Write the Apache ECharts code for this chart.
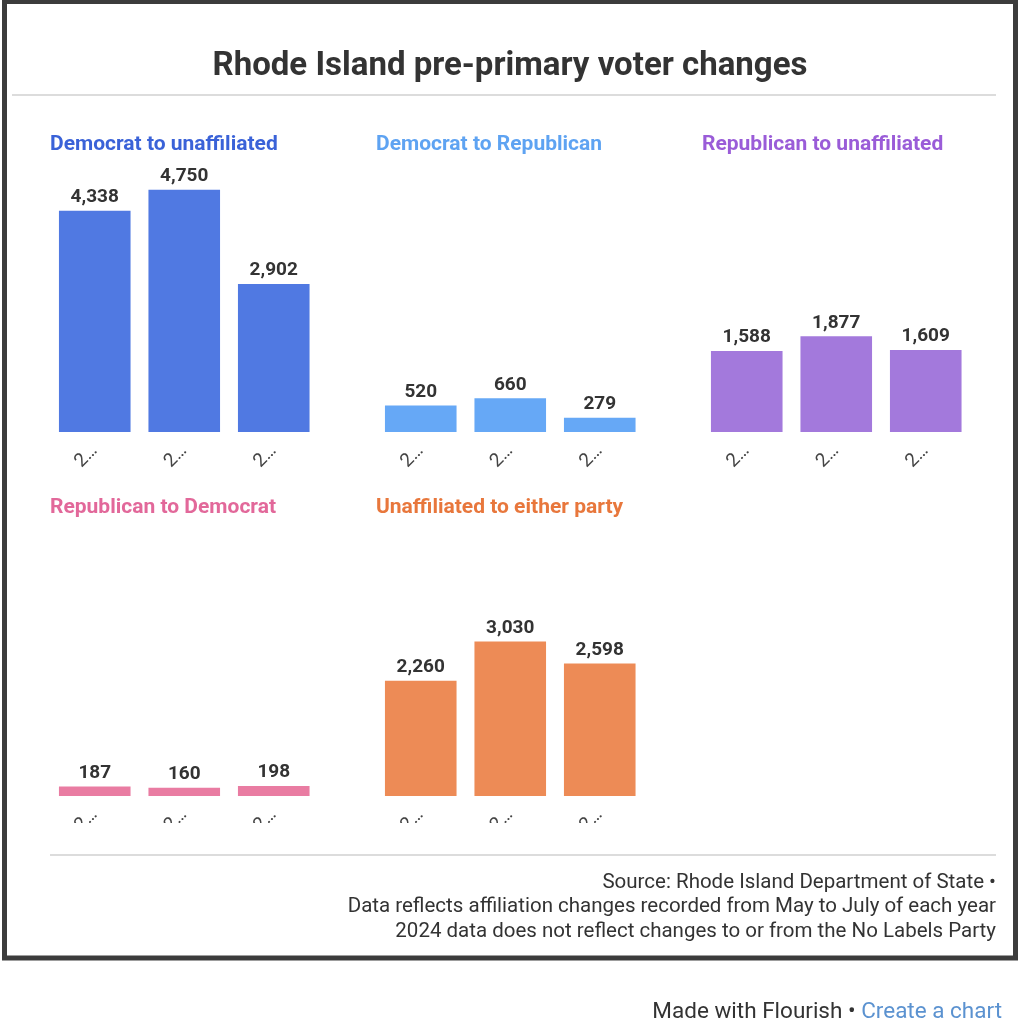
<!DOCTYPE html>
<html>
<head>
<meta charset="utf-8">
<script src="https://cdn.jsdelivr.net/npm/echarts@6/dist/echarts.min.js"></script>
<style>
html,body{margin:0;padding:0;background:#fff;}
#chart{width:1020px;height:1024px;}
</style>
</head>
<body>
<div id="chart"></div>
<script>
const years = ['2020', '2022', '2024'];
const panelTitles = ['Democrat to unaffiliated', 'Democrat to Republican', 'Republican to unaffiliated', 'Republican to Democrat', 'Unaffiliated to either party'];
const demToUnaff = [4338, 4750, 2902];
const demToRep = [520, 660, 279];
const repToUnaff = [1588, 1877, 1609];
const repToDem = [187, 160, 198];
const unaffToParty = [2260, 3030, 2598];
const titleColors = ['#3a62d8', '#5ea3f2', '#9a5cd8', '#e2689a', '#e8773c'];
const barColors = ['#5079e2', '#66a8f6', '#a379dc', '#e97ca2', '#ed8b56'];
const chartTitle = 'Rhode Island pre-primary voter changes';
const footerLines = ['Source: Rhode Island Department of State •', 'Data reflects affiliation changes recorded from May to July of each year', '2024 data does not reflect changes to or from the No Labels Party'];

const seriesData = [demToUnaff, demToRep, repToUnaff, repToDem, unaffToParty];
const FONT = 'Roboto';
const colLeft = [50, 376, 702];
const bandW = 268.5;
const rowBottom = [432, 796];
const plotH = 255;

const grids = [], xAxes = [], yAxes = [], series = [], titles = [];
seriesData.forEach((d, i) => {
  const col = i % 3, row = Math.floor(i / 3);
  grids.push({left: colLeft[col], width: bandW, top: rowBottom[row] - plotH, height: plotH, containLabel: false});
  xAxes.push({
    type: 'category', gridIndex: i, data: years,
    axisLine: {show: false}, axisTick: {show: false},
    axisLabel: {rotate: 45, color: '#444', fontFamily: FONT, fontSize: 19, margin: 16, width: 30, overflow: 'truncate', ellipsis: '…'}
  });
  yAxes.push({type: 'value', gridIndex: i, min: 0, max: 5000, show: false, splitLine: {show: false}});
  series.push({
    type: 'bar', xAxisIndex: i, yAxisIndex: i, data: d, barWidth: '80%',
    itemStyle: {color: barColors[i]},
    label: {show: true, position: 'top', distance: 4, color: '#333', fontFamily: FONT, fontWeight: 'bold', fontSize: 19,
      formatter: p => p.value.toLocaleString('en-US')}
  });
  titles.push({text: panelTitles[i], left: colLeft[col], top: row === 0 ? 134 : 497, padding: 0,
    textStyle: {color: titleColors[i], fontFamily: FONT, fontWeight: 'bold', fontSize: 21}});
});

titles.push({text: chartTitle, left: 'center', top: 50, padding: 0,
  textStyle: {color: '#333', fontFamily: FONT, fontWeight: 'bold', fontSize: 33}});

const graphics = [
  {type: 'rect', shape: {x: 4.5, y: 1.5, width: 1011, height: 956.5}, style: {fill: 'none', stroke: '#3c3c3c', lineWidth: 5}, z: 100},
  {type: 'line', shape: {x1: 12, y1: 95, x2: 996, y2: 95}, style: {stroke: '#dcdcdc', lineWidth: 2}},
  {type: 'rect', shape: {x: 10, y: 823, width: 990, height: 30}, style: {fill: '#fff'}, z: 50},
  {type: 'line', shape: {x1: 50, y1: 855, x2: 996, y2: 855}, style: {stroke: '#dcdcdc', lineWidth: 2}, z: 60},
];
footerLines.forEach((t, k) => {
  graphics.push({type: 'text', right: 24, top: 872 + k * 24.5, z: 60,
    style: {text: t, fill: '#333', font: '20.5px ' + FONT, textAlign: 'right'}});
});
graphics.push({type: 'text', right: 18, top: 1001, style: {
  rich: {a: {fill: '#333', font: '22.5px ' + FONT}, b: {fill: '#5b92d0', font: '22.5px ' + FONT}},
  text: '{a|Made with Flourish • }{b|Create a chart}'}});

const chart = echarts.init(document.getElementById('chart'));
chart.setOption({
  backgroundColor: '#fff',
  animation: false,
  title: titles,
  grid: grids,
  xAxis: xAxes,
  yAxis: yAxes,
  series: series,
  graphic: graphics
});
</script>
</body>
</html>
